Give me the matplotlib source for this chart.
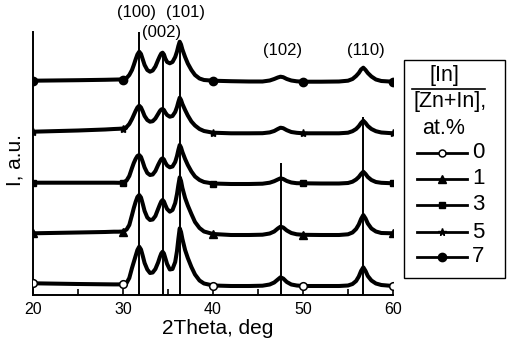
import matplotlib as mpl
mpl.use('Agg')
import matplotlib.pyplot as plt
from matplotlib.lines import Line2D
from matplotlib.patches import Rectangle
import numpy as np

plt.rcParams['font.family'] = ['Liberation Sans', 'DejaVu Sans']

# 2Theta sampling (deg)
two_theta = [20, 25, 28, 29, 29.5, 30, 30.4, 30.7, 31.0, 31.2, 31.4, 31.6, 31.8, 32.0, 32.2, 32.4,
             32.7, 33.0, 33.3, 33.6, 33.9, 34.1, 34.25, 34.4, 34.55, 34.7,
             34.9, 35.2, 35.5, 35.8, 36.0, 36.15, 36.3, 36.45, 36.6, 36.9,
             37.2, 37.6, 38.0, 38.5, 39.0, 40, 42, 44, 45.5, 46.3,
             46.8, 47.2, 47.5, 47.8, 48.2, 48.7, 49.3, 50, 52, 54,
             55.0, 55.5, 55.9, 56.2, 56.45, 56.7, 56.95, 57.2, 57.6, 58.1, 58.7, 60]

# intensities (a.u., stacked as in the figure)
I_0 = [11.7, 11.0, 10.7, 10.6, 10.6, 10.7, 12, 17, 27, 33, 39, 45, 48.3, 45.5, 39, 32,
       25.5, 22, 22.5, 26, 32.5, 38, 41.5, 43.3, 41.5, 37,
       31, 25.5, 26, 33, 44, 56, 66.7, 63, 56, 45,
       37, 28, 20.5, 14.5, 11.5, 9.5, 9, 9, 9.3, 10.5,
       12.5, 15.5, 17.7, 16.5, 13, 10.5, 9.5, 9, 9, 9,
       9.5, 11, 14, 18.5, 24, 27.7, 24, 19, 14.5, 11.5, 10, 9]
I_1 = [61.7, 62.5, 63, 63.3, 63.3, 63.5, 65.5, 70, 80, 87, 93, 98, 100, 97.5, 91, 84,
       77.5, 75, 75.5, 79, 86, 90.5, 93.5, 95, 93.5, 90,
       86, 83.3, 85, 92, 101, 110, 117.7, 114, 107, 97,
       89.5, 81, 73, 67, 63.5, 61, 60, 60, 60.3, 61.5,
       63.5, 66.5, 68.3, 67.5, 64.5, 62, 60.7, 60.2, 60, 60,
       60.7, 62.5, 66, 70.5, 76, 80, 76.5, 71.5, 66.5, 63.5, 62, 61.7]
I_3 = [112.3, 112.3, 112.3, 112.3, 112.2, 112.3, 114.5, 119, 127, 132, 136, 139, 140, 138, 133, 127.5,
       122, 120, 120.5, 124, 130, 133.5, 135.8, 136.7, 135.5, 132.5,
       129.5, 127.7, 128.5, 133, 139, 145, 150, 147.5, 143, 136,
       130, 123.5, 118.5, 115, 113, 111.5, 111, 111, 111.3, 112.3,
       113.8, 115.5, 116.7, 116, 114, 112.5, 111.8, 111.7, 111.5, 111.5,
       112, 113.3, 115.5, 118, 121, 123.3, 121, 118, 115, 113, 112.2, 111.7]
I_5 = [163.3, 164.5, 165.5, 166, 166.2, 166.5, 168, 171, 176, 180, 184, 187.5, 189.3, 187.5, 183.5, 179,
       175, 173.3, 173.8, 176.5, 181, 184, 185.5, 186, 185, 182.5,
       180, 178.3, 179, 183, 188, 193, 197.3, 195, 191, 185,
       179.5, 173.5, 169.5, 166, 164, 162.3, 161.7, 161.7, 161.8, 162.6,
       164, 166, 167.3, 166.8, 164.8, 163, 162.2, 161.7, 161.7, 161.7,
       162.3, 163.8, 166, 168.8, 172, 174.3, 172, 169, 166, 163.8, 162.5, 161.7]
I_7 = [214.3, 214.8, 215.2, 215.4, 215.5, 215.5, 217, 220, 225, 230, 235.5, 240.5, 243.3, 241, 235.5, 230,
       225, 223.3, 224.5, 228.5, 235, 239, 241.5, 242.3, 240.5, 236.5,
       233, 231.7, 233, 238, 243.5, 249, 253.3, 250.5, 245.5, 238,
       231.5, 225, 220, 216.5, 215, 214.3, 213.8, 213.5, 213.5, 214.5,
       216, 217.5, 218.3, 217.8, 216, 214.5, 213.7, 213.3, 213.3, 213.5,
       214.3, 216, 219, 222, 225.5, 227.3, 225, 222, 218.5, 215.5, 214, 213.3]

series = [I_0, I_1, I_3, I_5, I_7]
labels = ['0', '1', '3', '5', '7']
marker_x = [20, 30, 40, 50, 60]

# reflections: position, top of the drop line, label
peak_pos = [31.8, 34.4, 36.3, 47.55, 56.7]
peak_top = [263, 242, 253, 132, 178]
hkl = ['(100)', '(002)', '(101)', '(102)', '(110)']
hkl_x = [31.5, 34.33, 36.94, 47.78, 57.0]
hkl_y = [283, 263, 283, 245, 245]

styles = [dict(marker='o', mfc='white', mec='black', ms=5.5, mew=1.1),
          dict(marker='^', mfc='black', mec='black', ms=5.5),
          dict(marker='s', mfc='black', mec='black', ms=5),
          dict(marker='*', mfc='black', mec='black', ms=6),
          dict(marker='o', mfc='black', mec='black', ms=6)]

W, H = 510, 344
fig = plt.figure(figsize=(5.1, 3.44), dpi=100)
ax = fig.add_axes([33/W, 49/H, 360/W, 263/H])

x = np.array(two_theta)
idx = [int(np.argmin(np.abs(x - m))) for m in marker_x]

for I, st in zip(series, styles):
    ax.plot(x, I, color='black', lw=2.9, markevery=idx, zorder=3,
            solid_joinstyle='round', **st)

ax.vlines(peak_pos, 0, peak_top, color='black', lw=1.4, zorder=2)

for t, tx, ty in zip(hkl, hkl_x, hkl_y):
    ax.text(tx, ty, t, ha='center', va='center', fontsize=12, clip_on=False)

ax.set_xlim(20, 60)
ax.set_ylim(0, 263)
ax.set_xticks([20, 30, 40, 50, 60])
ax.set_xticks([25, 35, 45, 55], minor=True)
ax.set_yticks([])
ax.tick_params(axis='x', which='both', direction='in', length=4, width=1.2, labelsize=11.5, pad=5)
for s in ['top', 'right']:
    ax.spines[s].set_visible(False)
for s in ['left', 'bottom']:
    ax.spines[s].set_linewidth(1.4)

fig.text(218/W, 1 - 329/H, '2Theta, deg', ha='center', va='center', fontsize=15)
fig.text(15/W, 1 - 160/H, 'I, a.u.', ha='center', va='center', rotation=90, fontsize=15)

# legend box drawn by hand
def fx(p):
    return p / W

def fy(p):
    return 1 - p / H

fig.add_artist(Rectangle((fx(404), fy(278)), 101/W, 218/H, transform=fig.transFigure,
                         fill=False, ec='black', lw=1.0))
fig.text(fx(444), fy(76), '[In]', ha='center', va='center', fontsize=15.5)
fig.add_artist(Line2D([fx(412), fx(485)], [fy(89), fy(89)], transform=fig.transFigure,
                      color='black', lw=1.2))
fig.text(fx(450), fy(101), '[Zn+In],', ha='center', va='center', fontsize=15.5)
fig.text(fx(444), fy(128), 'at.%', ha='center', va='center', fontsize=15.5)

leg_y = [153, 179, 205, 232, 257]
leg_ms = [5, 5.5, 5, 5.5, 6]
for lab, st, ly, ms in zip(labels, styles, leg_y, leg_ms):
    fig.add_artist(Line2D([fx(417), fx(467)], [fy(ly), fy(ly)], transform=fig.transFigure,
                          color='black', lw=2.0, zorder=3))
    st_leg = dict(st, ms=ms)
    fig.add_artist(Line2D([fx(442)], [fy(ly)], transform=fig.transFigure, lw=0, zorder=4, **st_leg))
    fig.text(fx(472), fy(ly), lab, ha='left', va='center', fontsize=16)

plt.savefig('out.png', dpi=100)
